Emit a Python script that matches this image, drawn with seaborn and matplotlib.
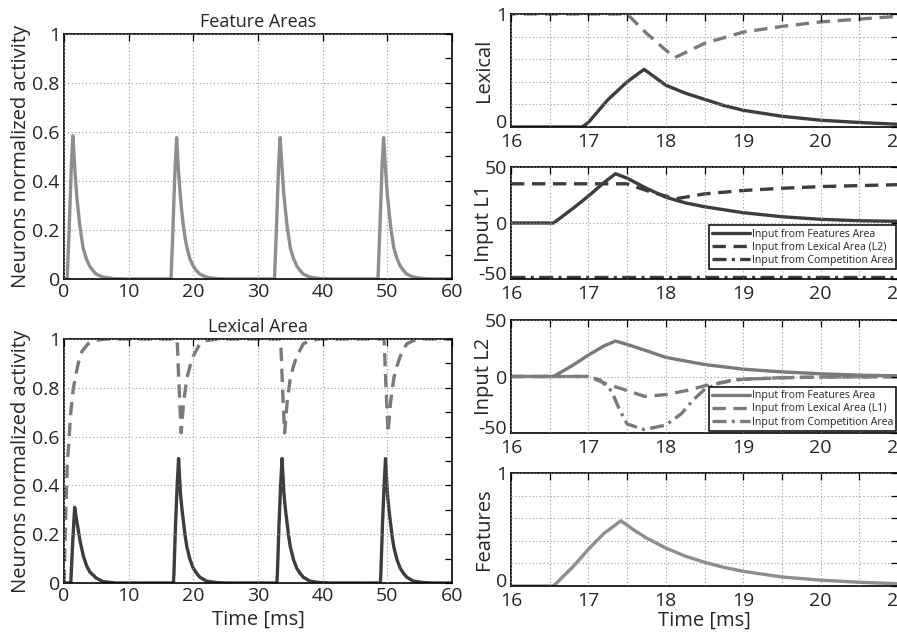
import numpy as np
import pandas as pd
import matplotlib
matplotlib.use("Agg")
import matplotlib.pyplot as plt
from matplotlib.ticker import MultipleLocator, FuncFormatter
from matplotlib.transforms import ScaledTranslation
import seaborn as sns

# ---------------- data ----------------
# Feature area activity (full 0-60 ms timeline)
feat_t = [0, 0.5, 0.75, 0.95, 1.15, 1.37, 1.7, 1.95, 2.45, 2.95, 3.45, 3.95, 4.45, 4.95, 6.0, 7.5, 9.5,
          16.55, 16.8, 17.0, 17.2, 17.42, 17.6, 17.75, 18.0, 18.25, 18.5, 18.75, 19.0, 19.5, 20.0, 20.5, 21.0, 22.0, 23.5, 25.5,
          32.55, 32.8, 33.0, 33.2, 33.42, 33.75, 34.0, 34.5, 35.0, 35.5, 36.0, 36.5, 37.0, 38.0, 39.5, 41.5,
          48.55, 48.8, 49.0, 49.2, 49.42, 49.75, 50.0, 50.5, 51.0, 51.5, 52.0, 52.5, 53.0, 54.0, 55.5, 57.5, 60.0]
feat_v = [0, 0, 0.17, 0.32, 0.47, 0.585, 0.44, 0.343, 0.216, 0.127, 0.083, 0.053, 0.035, 0.02, 0.008, 0.002, 0,
          0, 0.17, 0.325, 0.465, 0.577, 0.49, 0.425, 0.336, 0.265, 0.21, 0.165, 0.13, 0.08, 0.052, 0.033, 0.02, 0.008, 0.002, 0,
          0, 0.17, 0.32, 0.47, 0.577, 0.44, 0.343, 0.216, 0.127, 0.083, 0.053, 0.035, 0.02, 0.008, 0.002, 0,
          0, 0.17, 0.32, 0.47, 0.577, 0.44, 0.343, 0.216, 0.127, 0.083, 0.053, 0.035, 0.02, 0.008, 0.002, 0, 0]

# Lexical area L1 (solid, dark)
lex1_t = [0, 1.05, 1.35, 1.65, 2.0, 2.5, 3.0, 3.5, 4.0, 5.0, 6.0, 8.0,
          16.92, 17.0, 17.25, 17.5, 17.72, 18.0, 18.25, 18.5, 18.75, 19.0, 19.5, 20.0, 20.5, 21.0, 22.0, 23.5, 25.0,
          32.92, 33.0, 33.25, 33.5, 33.72, 34.0, 34.25, 34.5, 34.75, 35.0, 35.5, 36.0, 36.5, 37.0, 38.0, 39.5, 41.0,
          48.92, 49.0, 49.25, 49.5, 49.72, 50.0, 50.25, 50.5, 50.75, 51.0, 51.5, 52.0, 52.5, 53.0, 54.0, 55.5, 57.0, 60.0]
lex1_v = [0, 0, 0.17, 0.31, 0.25, 0.17, 0.11, 0.07, 0.045, 0.02, 0.006, 0,
          0, 0.04, 0.24, 0.4, 0.51, 0.37, 0.3, 0.245, 0.19, 0.148, 0.095, 0.06, 0.04, 0.024, 0.008, 0.002, 0,
          0, 0.04, 0.24, 0.4, 0.51, 0.37, 0.3, 0.245, 0.19, 0.148, 0.095, 0.06, 0.04, 0.024, 0.008, 0.002, 0,
          0, 0.04, 0.24, 0.4, 0.51, 0.37, 0.3, 0.245, 0.19, 0.148, 0.095, 0.06, 0.04, 0.024, 0.008, 0.002, 0, 0]

# Lexical area L2 (dashed, grey)
lex2_t = [0, 0.15, 0.3, 0.5, 0.8, 1.05, 1.4, 1.8, 2.2, 2.8, 3.7, 5.0, 6.5,
          17.5, 17.75, 18.0, 18.12, 18.5, 19.0, 19.5, 20.0, 20.5, 21.0, 22.0, 23.5,
          33.5, 33.75, 34.0, 34.12, 34.5, 35.0, 35.5, 36.0, 36.5, 37.0, 38.0, 39.5,
          49.5, 49.75, 50.0, 50.12, 50.5, 51.0, 51.5, 52.0, 52.5, 53.0, 54.0, 55.5, 60.0]
lex2_v = [0, 0.15, 0.32, 0.48, 0.6, 0.7, 0.79, 0.85, 0.9, 0.95, 0.98, 0.995, 1.0,
          1.0, 0.83, 0.68, 0.615, 0.74, 0.84, 0.89, 0.93, 0.955, 0.98, 0.993, 1.0,
          1.0, 0.83, 0.68, 0.615, 0.74, 0.84, 0.89, 0.93, 0.955, 0.98, 0.993, 1.0,
          1.0, 0.83, 0.68, 0.615, 0.74, 0.84, 0.89, 0.93, 0.955, 0.98, 0.993, 1.0, 1.0]

# Inputs to lexical unit L1
inL1_feat_t = [16, 16.55, 16.8, 17.0, 17.2, 17.35, 17.5, 17.75, 18.0, 18.25, 18.5, 19.0, 19.5, 20.0, 20.5, 21.0, 21.5]
inL1_feat_v = [0, 0, 13, 24, 36, 44, 40, 31, 23, 18, 14.5, 9.2, 5.6, 3.3, 2.0, 1.5, 1.2]
inL1_lex_t = [16, 17.5, 17.75, 18.0, 18.12, 18.5, 19.0, 19.5, 20.0, 20.5, 21.0, 21.5]
inL1_lex_v = [35, 35, 29, 24, 21.5, 26, 29, 31, 32.5, 33.4, 34.2, 34.6]
inL1_comp_t = [16, 21.5]
inL1_comp_v = [-48, -48]

# Inputs to lexical unit L2
inL2_feat_t = [16, 16.55, 16.8, 17.0, 17.2, 17.35, 17.5, 17.75, 18.0, 18.5, 19.0, 19.5, 20.0, 20.5, 21.0, 21.5]
inL2_feat_v = [0, 0, 10, 19, 27, 31.4, 28.4, 22.8, 16.9, 10.6, 6.5, 4.1, 2.4, 1.2, 0.6, 0.4]
inL2_lex_t = [16, 17.0, 17.25, 17.5, 17.73, 18.0, 18.27, 18.5, 18.8, 19.0, 19.5, 20.0, 21.0, 21.5]
inL2_lex_v = [0, 0, -7, -12.4, -17.7, -16, -12.4, -8.3, -4.4, -2.4, -1.2, -0.5, -0.3, -0.2]
inL2_comp_t = [16, 17.0, 17.15, 17.3, 17.4, 17.5, 17.72, 18.0, 18.2, 18.35, 18.5, 18.7, 18.9, 19.5, 20.0, 21.0, 21.5]
inL2_comp_v = [0, 0, -3, -13, -29, -42, -47, -43, -33, -21, -11.5, -5.6, -2.7, -1, -0.5, 0, 0]

legend_L1 = ["Input from Features Area", "Input from Lexical Area (L2)", "Input from Competition Area"]
legend_L2 = ["Input from Features Area", "Input from Lexical Area (L1)", "Input from Competition Area"]

unit_ticks = [0, 0.2, 0.4, 0.6, 0.8, 1.0]
input_ticks = [-50, 0, 50]

# ---------------- style ----------------
sns.set_theme(style="white")
plt.rcParams["font.family"] = ["Open Sans", "DejaVu Sans"]
plt.rcParams["axes.unicode_minus"] = False
plt.rcParams["axes.edgecolor"] = "black"
plt.rcParams["axes.linewidth"] = 1.2

C_FEAT = "#8e8e8e"
C_DARK = "#3d3d3d"
C_GREY = "#7a7a7a"
LW = 2.4
DASH = (0, (4, 2.3))
DASHDOT = (0, (4.2, 1.6, 0.9, 1.6))
TICK_FS = 14
LAB_FS = 14.5

fig = plt.figure(figsize=(8.97, 6.36), dpi=100)

W, H = 897.0, 636.0
def rect(l, r, t, b):
    return [l / W, (H - b) / H, (r - l) / W, (b - t) / H]

ax_fa = fig.add_axes(rect(64, 452, 34, 279))
ax_la = fig.add_axes(rect(64, 452, 339, 583))
ax_r1 = fig.add_axes(rect(511, 898, 14, 127))
ax_r2 = fig.add_axes(rect(511, 898, 167, 279))
ax_r3 = fig.add_axes(rect(511, 898, 320, 433))
ax_r4 = fig.add_axes(rect(511, 898, 473, 586))

def line(ax, t, v, color, ls="-", label=None):
    sns.lineplot(x=t, y=v, ax=ax, color=color, lw=LW, linestyle=ls,
                 estimator=None, sort=False, label=label, legend=False)

gfmt = FuncFormatter(lambda v, p: ("%g" % v))

def style_common(ax):
    ax.grid(True, which="major", linestyle=(0, (1, 2.2)), color="#9a9a9a", linewidth=0.8)
    ax.tick_params(which="both", direction="in", top=True, right=True, labelsize=TICK_FS,
                   length=5, width=0.9, color="black", pad=3)
    for s in ax.spines.values():
        s.set_color("black")
        s.set_linewidth(1.2)
    ax.set_axisbelow(False)

# ---- left panels ----
line(ax_fa, feat_t, feat_v, C_FEAT)
line(ax_la, lex2_t, lex2_v, C_GREY, DASH)
line(ax_la, lex1_t, lex1_v, C_DARK)

for ax, title in [(ax_fa, "Feature Areas"), (ax_la, "Lexical Area")]:
    ax.set_xlim(0, 60)
    ax.set_ylim(0, 1)
    ax.xaxis.set_major_locator(MultipleLocator(10))
    ax.yaxis.set_major_locator(MultipleLocator(0.2))
    ax.yaxis.set_minor_locator(MultipleLocator(0.1))
    ax.yaxis.set_major_formatter(gfmt)
    style_common(ax)
    ax.tick_params(which="minor", left=False, right=True, direction="in", length=5, width=0.9)
    ax.set_title(title, fontsize=13, pad=5)
    ax.set_ylabel("Neurons normalized activity", fontsize=LAB_FS)
    ax.yaxis.set_label_coords(-0.085, 0.5)
ax_la.set_xlabel("Time [ms]", fontsize=LAB_FS, labelpad=3)

# ---- right panels ----
line(ax_r1, lex2_t, lex2_v, C_GREY, DASH)
line(ax_r1, lex1_t, lex1_v, C_DARK)

line(ax_r2, inL1_feat_t, inL1_feat_v, C_DARK, "-", legend_L1[0])
line(ax_r2, inL1_lex_t, inL1_lex_v, C_DARK, DASH, legend_L1[1])
line(ax_r2, inL1_comp_t, inL1_comp_v, C_DARK, DASHDOT, legend_L1[2])

line(ax_r3, inL2_feat_t, inL2_feat_v, C_GREY, "-", legend_L2[0])
line(ax_r3, inL2_lex_t, inL2_lex_v, C_GREY, DASH, legend_L2[1])
line(ax_r3, inL2_comp_t, inL2_comp_v, C_GREY, DASHDOT, legend_L2[2])

line(ax_r4, feat_t, feat_v, C_FEAT)

half_fmt = FuncFormatter(lambda v, p: ("%d" % round(v)) if abs(v - round(v)) < 1e-6 else "")
unit_fmt = FuncFormatter(lambda v, p: ("%d" % round(v)) if (abs(v) < 1e-6 or abs(v - 1) < 1e-6) else "")

for ax, lab in [(ax_r1, "Lexical"), (ax_r2, "Input L1"), (ax_r3, "Input L2"), (ax_r4, "Features")]:
    ax.set_xlim(16, 21)
    ax.xaxis.set_major_locator(MultipleLocator(0.5))
    ax.xaxis.set_major_formatter(half_fmt)
    style_common(ax)
    ax.tick_params(axis="x", pad=4)
    ax.set_ylabel(lab, fontsize=LAB_FS)
    ax.yaxis.set_label_coords(-0.045, 0.5)

for ax in (ax_r1, ax_r4):
    ax.set_ylim(0, 1)
    ax.set_yticks(unit_ticks)
    ax.yaxis.set_major_formatter(unit_fmt)
for ax in (ax_r2, ax_r3):
    ax.set_ylim(-50, 50)
    ax.set_yticks(input_ticks)
    ax.yaxis.set_major_formatter(gfmt)

ax_r4.set_xlabel("Time [ms]", fontsize=LAB_FS, labelpad=1)

for ax, anchor in [(ax_r2, (0.995, 0.09)), (ax_r3, (0.995, 0.02))]:
    leg = ax.legend(loc="lower right", bbox_to_anchor=anchor, borderaxespad=0,
                    fontsize=7.6, frameon=True, fancybox=False, handlelength=3.6,
                    handletextpad=0.15, labelspacing=0.2, borderpad=0.3, framealpha=1)
    leg.get_frame().set_edgecolor("black")
    leg.get_frame().set_linewidth(1.1)

# lift the bottom y tick label of the right-hand panels slightly (as in the source)
fig.canvas.draw()
lift = ScaledTranslation(0, 4 / 72.0, fig.dpi_scale_trans)
for ax in (ax_r1, ax_r2, ax_r3, ax_r4):
    tick0 = ax.yaxis.get_major_ticks()[0]
    tick0.label1.set_transform(tick0.label1.get_transform() + lift)

fig.savefig("out.png", dpi=100)
